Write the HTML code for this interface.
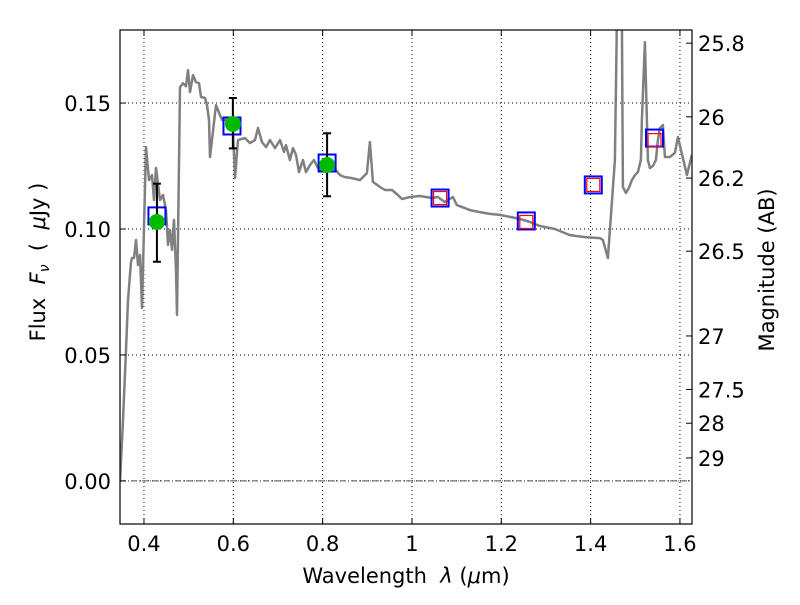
<!DOCTYPE html>
<html><head><meta charset="utf-8"><style>
body{margin:0;background:#fff;}
svg{font-family:"DejaVu Sans","Liberation Sans",sans-serif;}
</style></head><body>
<svg id="chart" width="800" height="600" viewBox="0 0 800 600" xmlns="http://www.w3.org/2000/svg">
<rect width="800" height="600" fill="#fff"/>
<defs><clipPath id="clip"><rect x="120" y="30" width="572" height="494"/></clipPath></defs>
<g id="grid"></g>
<g id="marks" clip-path="url(#clip)"></g>
<rect x="120" y="30" width="572" height="494" fill="none" stroke="#000" stroke-width="1.2"/>
<g id="axes"></g>
<text x="406" y="583" font-size="21" text-anchor="middle" xml:space="preserve">Wavelength  <tspan font-style="italic">λ</tspan> (<tspan font-style="italic">μ</tspan>m)</text>
<text transform="translate(45,262) rotate(-90)" font-size="21" text-anchor="middle" xml:space="preserve">Flux  <tspan font-style="italic">F</tspan><tspan font-style="italic" font-size="14" dy="4">ν</tspan><tspan dy="-4">  (  <tspan font-style="italic">μ</tspan>Jy )</tspan></text>
<text transform="translate(774,270) rotate(-90)" font-size="21" text-anchor="middle">Magnitude (AB)</text>
</svg>
<script>
const xTicks=[0.4,0.6,0.8,1.0,1.2,1.4,1.6];
const xTickLabels=["0.4","0.6","0.8","1","1.2","1.4","1.6"];
const yTicks=[0,0.05,0.10,0.15];
const yTickLabels=["0.00","0.05","0.10","0.15"];
const magTicks=[25.8,26,26.2,26.5,27,27.5,28,29];
const magLabels=["25.8","26","26.2","26.5","27","27.5","28","29"];
// spectrum wavelength (um) and flux (uJy)
const specWave=[0.3463,0.3530,0.3597,0.3642,0.3709,0.3731,0.3776,0.3821,0.3866,0.3910,0.3955,0.4045,0.4112,0.4179,0.4224,0.4269,0.4358,0.4425,0.4493,0.4537,0.4582,0.4627,0.4672,0.4716,0.4739,0.4806,0.4873,0.4940,0.4985,0.5030,0.5097,0.5164,0.5231,0.5276,0.5366,0.5410,0.5455,0.5478,0.5612,0.5701,0.5746,0.5925,0.5992,0.6037,0.6104,0.6261,0.6373,0.6485,0.6552,0.6642,0.6731,0.6821,0.6933,0.7045,0.7134,0.7179,0.7268,0.7336,0.7403,0.7470,0.7559,0.7627,0.7716,0.7806,0.7895,0.7985,0.8074,0.8231,0.8388,0.8500,0.8656,0.8835,0.8992,0.9059,0.9126,0.9283,0.9395,0.9552,0.9686,0.9776,0.9955,1.0179,1.0447,1.0581,1.0738,1.0917,1.1007,1.1298,1.1522,1.1746,1.1969,1.2193,1.2417,1.2641,1.2865,1.3201,1.3536,1.3872,1.4208,1.4275,1.4387,1.4544,1.4589,1.4701,1.4723,1.4790,1.4857,1.4924,1.4992,1.5059,1.5126,1.5148,1.5215,1.5283,1.5327,1.5394,1.5462,1.5506,1.5551,1.5618,1.5663,1.5775,1.5887,1.5954,1.6156,1.6268];
const specFlux=[-0.0004,0.0242,0.0520,0.0718,0.0869,0.0885,0.0885,0.0956,0.0857,0.0897,0.0687,0.1325,0.1194,0.1214,0.1115,0.1242,0.1115,0.1135,0.1075,0.0937,0.0996,0.0917,0.1036,0.0837,0.0659,0.1563,0.1579,0.1567,0.1631,0.1544,0.1611,0.1583,0.1579,0.1524,0.1520,0.1492,0.1433,0.1286,0.1492,0.1452,0.1433,0.1433,0.1393,0.1202,0.1353,0.1361,0.1341,0.1353,0.1401,0.1345,0.1325,0.1353,0.1321,0.1353,0.1306,0.1333,0.1274,0.1321,0.1294,0.1226,0.1274,0.1226,0.1254,0.1274,0.1242,0.1234,0.1226,0.1246,0.1214,0.1206,0.1202,0.1194,0.1222,0.1345,0.1187,0.1167,0.1155,0.1155,0.1135,0.1119,0.1127,0.1131,0.1123,0.1127,0.1107,0.1127,0.1095,0.1075,0.1067,0.1060,0.1056,0.1048,0.1040,0.1028,0.1012,0.1000,0.0976,0.0968,0.0964,0.0956,0.0885,0.1274,0.1829,0.1829,0.1167,0.1143,0.1163,0.1194,0.1214,0.1226,0.1274,0.1433,0.1742,0.1274,0.1242,0.1250,0.1274,0.1353,0.1401,0.1413,0.1286,0.1286,0.1302,0.1365,0.1214,0.1294];
const photWave=[0.429,0.599,0.810];
const photFlux=[0.1028,0.1417,0.1254];
const photErrLo=[0.087,0.132,0.113];
const photErrHi=[0.118,0.152,0.138];
const modelWave=[0.429,0.597,0.810,1.063,1.256,1.406,1.543];
const modelFlux=[0.1052,0.1409,0.1262,0.1123,0.1032,0.1175,0.1361];
const redWave=[1.063,1.256,1.406,1.543];
const redFlux=[0.1123,0.1028,0.1175,0.1353];

const X0=120,X1=692,Y0=524,Y1=30,xmin=0.3463,xmax=1.6270,ymin=-0.0171,ymax=0.1790;
const sx=v=>X0+(v-xmin)/(xmax-xmin)*(X1-X0);
const sy=v=>Y0-(v-ymin)/(ymax-ymin)*(Y0-Y1);
const magToFlux=m=>Math.pow(10,(23.9-m)/2.5);
const NS="http://www.w3.org/2000/svg";
function mk(tag,attrs,parent){const e=document.createElementNS(NS,tag);for(const k in attrs)e.setAttribute(k,attrs[k]);parent.appendChild(e);return e;}
const grid=document.getElementById('grid'),marks=document.getElementById('marks'),axes=document.getElementById('axes');
xTicks.forEach((t,i)=>{
 const x=sx(t);
 const g=mk('line',{x1:x,x2:x,y1:Y1,y2:Y0,stroke:'#000','stroke-width':1,'stroke-dasharray':'1,3'},grid);
 
 
 mk('line',{x1:x,x2:x,y1:Y0,y2:Y0-6,stroke:'#000'},axes);
 mk('line',{x1:x,x2:x,y1:Y1,y2:Y1+6,stroke:'#000'},axes);
 const tx=mk('text',{x:x,y:Y0+27,'font-size':21,'text-anchor':'middle'},axes);
 tx.textContent=xTickLabels[i];
 
 
});
yTicks.forEach((t,i)=>{
 const y=sy(t);
 const g=mk('line',{x1:X0,x2:X1,y1:y,y2:y,stroke:'#000','stroke-width':1,'stroke-dasharray':'1,3'},grid);
 
 
 mk('line',{x1:X0,x2:X0+6,y1:y,y2:y,stroke:'#000'},axes);
 const tx=mk('text',{x:X0-9,y:y+8,'font-size':21,'text-anchor':'end'},axes);
 tx.textContent=yTickLabels[i];
 
 
});
magTicks.forEach((m,i)=>{
 const y=sy(magToFlux(m));
 mk('line',{x1:X1,x2:X1-6,y1:y,y2:y,stroke:'#000'},axes);
 const tx=mk('text',{x:X1+6,y:y+8,'font-size':21},axes);
 tx.textContent=magLabels[i];
 
 
});
const zl=mk('line',{x1:X0,x2:X1,y1:sy(0),y2:sy(0),stroke:'#555','stroke-width':1,'stroke-dasharray':'6,2,1,2'},marks);


const pts=specWave.map((w,i)=>sx(w).toFixed(1)+','+sy(specFlux[i]).toFixed(1)).join(' ');
const sp=mk('polyline',{points:pts,fill:'none',stroke:'#808080','stroke-width':2.5,'stroke-linejoin':'round'},marks);


modelWave.forEach((w,i)=>{
 const r=mk('rect',{x:sx(w)-8.5,y:sy(modelFlux[i])-8.5,width:17,height:17,fill:'none',stroke:'#0000ff','stroke-width':2},marks);
 
 
});
redWave.forEach((w,i)=>{
 const r=mk('rect',{x:sx(w)-6.5,y:sy(redFlux[i])-6.5,width:13,height:13,fill:'none',stroke:'#ff0000','stroke-width':1.2},marks);
 
 
});
photWave.forEach((w,i)=>{
 const x=sx(w);
 const g=mk('g',{stroke:'#000','stroke-width':2},marks);
 
 
 mk('line',{x1:x,x2:x,y1:sy(photErrLo[i]),y2:sy(photErrHi[i])},g);
 mk('line',{x1:x-4,x2:x+4,y1:sy(photErrLo[i]),y2:sy(photErrLo[i])},g);
 mk('line',{x1:x-4,x2:x+4,y1:sy(photErrHi[i]),y2:sy(photErrHi[i])},g);
 const c=mk('circle',{cx:x,cy:sy(photFlux[i]),r:8,fill:'#00bb00'},marks);
 
 
});
</script>
</body></html>
